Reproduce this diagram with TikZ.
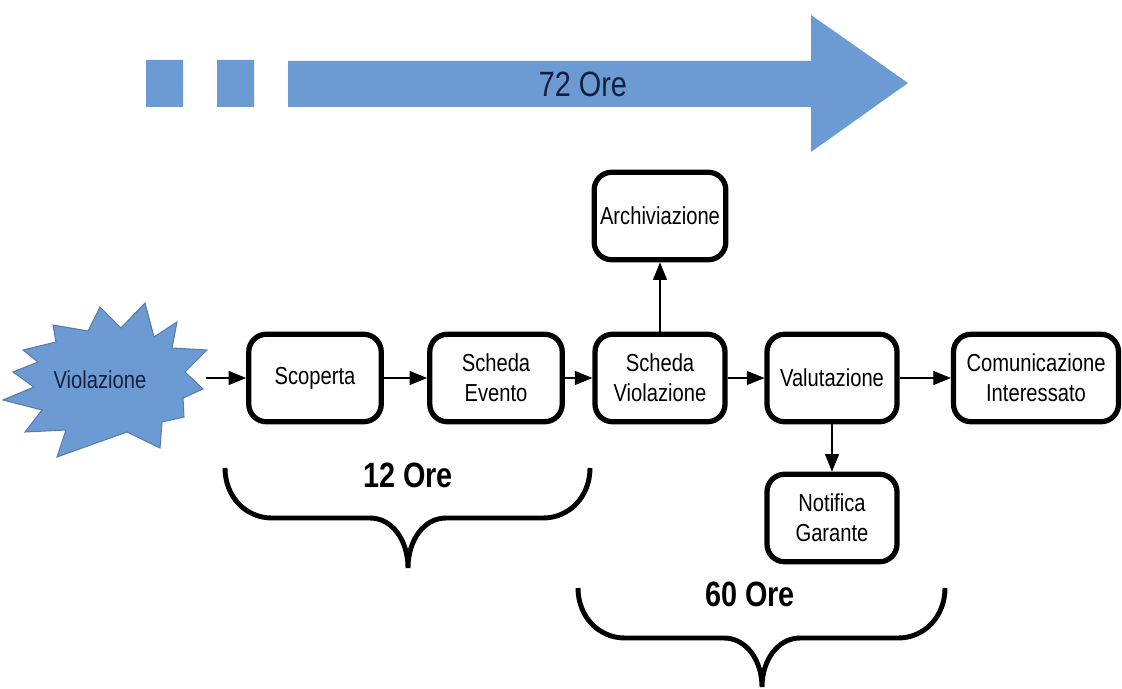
\documentclass[tikz,border=0pt]{standalone}
\usepackage{fontspec}
\setmainfont{Liberation Sans}[FakeStretch=0.82]
\usetikzlibrary{arrows.meta}
\definecolor{violblue}{RGB}{108,154,210}
\definecolor{violedge}{RGB}{88,124,170}
\definecolor{inktext}{RGB}{22,32,62}
\begin{document}
\begin{tikzpicture}[x=0.02cm,y=-0.02cm,
  stepbox/.style={draw, line width=3pt, rounded corners=10pt, minimum width=2.6cm, minimum height=1.75cm, align=center, font=\fontsize{14}{17}\selectfont},
  burst/.style={fill=violblue, draw=violedge, line width=0.6pt},
  link/.style={-{Triangle[length=10pt,width=8pt]}, line width=0.6pt},
  bracket/.style={line width=2.8pt},
  hours/.style={font=\bfseries\fontsize{20}{24}\selectfont}]
  \useasboundingbox (0,0) rectangle (1122,689);
  \fill[violblue] (146,60) rectangle (183,107) (217,60) rectangle (254,107);
  \fill[violblue] (288,61) -- (811,61) -- (811,15) -- (908,83) -- (811,152) -- (811,107) -- (288,107) -- cycle;
  \node[text=inktext, font=\fontsize{20}{24}\selectfont] (tot) at (583,84) {72 Ore};

  \draw[burst] (145,303) -- (154,337) -- (177,322) -- (172,348) -- (207,350) -- (185,372)
    -- (203,389) -- (183,398) -- (184,417) -- (162,422) -- (160,448) -- (127,432)
    -- (57,457) -- (66,430) -- (25,432) -- (42,410) -- (3,400) -- (34,387) -- (13,372)
    -- (38,362) -- (23,350) -- (56,342) -- (53,325) -- (88,331) -- (100,307) -- (121,328) -- cycle;
  \node[text=inktext, font=\fontsize{14}{17}\selectfont] (viol) at (100,380) {Violazione};
  \coordinate (vin) at (206,378);
  \node[stepbox, minimum width=2.65cm] (scop) at (315,378) {Scoperta};
  \node[stepbox, minimum width=2.65cm] (sev) at (496,378) {Scheda\\Evento};
  \node[stepbox] (sviol) at (660,378) {Scheda\\Violazione};
  \node[stepbox] (arch) at (660,216) {Archiviazione};
  \node[stepbox] (val) at (832,378) {Valutazione};
  \node[stepbox] (notif) at (832,518) {Notifica\\Garante};
  \node[stepbox, minimum width=3.3cm] (com) at (1036,378) {Comunicazione\\Interessato};

  \draw[link] (vin) -- (scop);
  \draw[link] (scop) -- (sev);
  \draw[link] (sev) -- (sviol);
  \draw[link] (sviol) -- (arch);
  \draw[link] (sviol) -- (val);
  \draw[link] (val) -- (notif);
  \draw[link] (val) -- (com);

  \draw[bracket] (225,468) .. controls (225,496) and (245,518) .. (272,518) -- (370,518)
    .. controls (392,518) and (408,540) .. (408,568) .. controls (408,540) and (424,518) .. (446,518)
    -- (543,518) .. controls (570,518) and (590,496) .. (590,468);
  \node[hours] (h12) at (408,475) {12 Ore};

  \draw[bracket] (578,588) .. controls (578,616) and (598,638) .. (625,638) -- (724,638)
    .. controls (746,638) and (762,660) .. (762,687) .. controls (762,660) and (778,638) .. (800,638)
    -- (898,638) .. controls (925,638) and (945,616) .. (945,588);
  \node[hours] (h60) at (750,594) {60 Ore};
\end{tikzpicture}
\end{document}
